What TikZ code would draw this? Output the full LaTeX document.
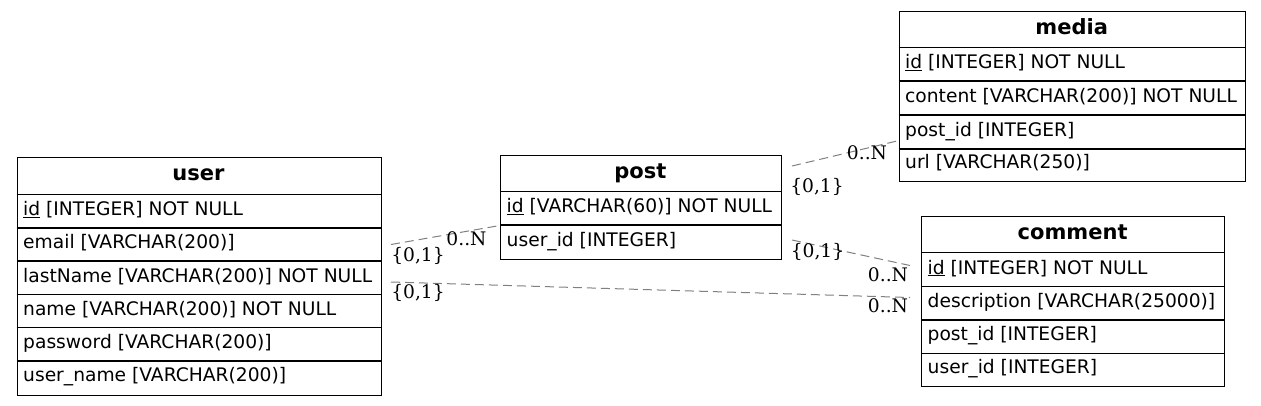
\documentclass[tikz,border=0pt]{standalone}
\usepackage{fontspec}
\setmainfont{DejaVu Sans}
\newfontfamily\cardserif{DejaVu Serif}
\newcommand\fldfont{\fontsize{18.67}{22}\selectfont}
\newcommand\hdrfont{\fontsize{21}{24}\selectfont\bfseries}
\newcommand\crdfont{\cardserif\fontsize{18.67}{22}\selectfont}
\newcommand\pk[1]{\underline{#1}}
\begin{document}
\begin{tikzpicture}[x=1pt,y=-1pt,
 tbl/.style={draw=black, line width=1pt, fill=white, anchor=north west, inner sep=0pt},
 sepl/.style={draw=black, line width=1.2pt},
 fld/.style={anchor=base west, inner sep=0pt, font=\fldfont},
 hdr/.style={anchor=base, inner sep=0pt, font=\hdrfont},
 card/.style={anchor=base, inner sep=0pt, font=\crdfont},
 rel/.style={draw=black!50, line width=1pt, dash pattern=on 9pt off 5pt}]
\useasboundingbox[fill=white] (0,0) rectangle (1261,405);

% ---------- tables ----------
% user
\node[tbl, minimum width=364pt, minimum height=237.7pt] (user) at (16.5,157.3) {};
\foreach \yy in {194.3,228,261,294.7,327.7,361} \draw[sepl] (16.5,\yy) -- (380.5,\yy);
\node[hdr] (user-h) at (198.5,180.5) {user};
\node[fld] (user-1) at (23,215.3) {\pk{id} [INTEGER] NOT NULL};
\node[fld] (user-2) at (23,248.3) {email [VARCHAR(200)]};
\node[fld] (user-3) at (23,282) {lastName [VARCHAR(200)] NOT NULL};
\node[fld] (user-4) at (23,315) {name [VARCHAR(200)] NOT NULL};
\node[fld] (user-5) at (23,348.3) {password [VARCHAR(200)]};
\node[fld] (user-6) at (23,381.8) {user\_name [VARCHAR(200)]};

% post
\node[tbl, minimum width=280.7pt, minimum height=103.7pt] (post) at (500,155) {};
\foreach \yy in {191.7,225} \draw[sepl] (500,\yy) -- (780.7,\yy);
\node[hdr] (post-h) at (640.3,178.2) {post};
\node[fld] (post-1) at (506.5,212.3) {\pk{id} [VARCHAR(60)] NOT NULL};
\node[fld] (post-2) at (506.5,246) {user\_id [INTEGER]};

% media
\node[tbl, minimum width=346.5pt, minimum height=170pt] (media) at (898.5,10.7) {};
\foreach \yy in {47.7,81,115,149} \draw[sepl] (898.5,\yy) -- (1245,\yy);
\node[hdr] (media-h) at (1071.7,34.2) {media};
\node[fld] (media-1) at (905,68.3) {\pk{id} [INTEGER] NOT NULL};
\node[fld] (media-2) at (905,102.3) {content [VARCHAR(200)] NOT NULL};
\node[fld] (media-3) at (905,136.3) {post\_id [INTEGER]};
\node[fld] (media-4) at (905,168) {url [VARCHAR(250)]};

% comment
\node[tbl, minimum width=303.3pt, minimum height=170pt] (comment) at (921,215.7) {};
\foreach \yy in {252.7,286.7,320,353.3} \draw[sepl] (921,\yy) -- (1224.3,\yy);
\node[hdr] (comment-h) at (1072.6,239.2) {comment};
\node[fld] (comment-1) at (927.5,274) {\pk{id} [INTEGER] NOT NULL};
\node[fld] (comment-2) at (927.5,307.3) {description [VARCHAR(25000)]};
\node[fld] (comment-3) at (927.5,340.6) {post\_id [INTEGER]};
\node[fld] (comment-4) at (927.5,373) {user\_id [INTEGER]};

% ---------- relations ----------
\coordinate (e1s) at (391,244.5);
\coordinate (e1t) at (497,226);
\coordinate (e2s) at (391,282);
\coordinate (e2t) at (910,297.5);
\coordinate (e3s) at (792,240);
\coordinate (e3t) at (910,265.5);
\coordinate (e4s) at (792,166);
\coordinate (e4t) at (897,141);
\draw[rel] (e1s) -- (e1t);
\draw[rel] (e2s) -- (e2t);
\draw[rel] (e3s) -- (e3t);
\draw[rel] (e4s) -- (e4t);

\node[card] (c1a) at (418,261) {\{0,1\}};
\node[card] (c1b) at (466.5,245) {0..N};
\node[card] (c2a) at (418,298) {\{0,1\}};
\node[card] (c2b) at (888,312) {0..N};
\node[card] (c3a) at (817.5,257) {\{0,1\}};
\node[card] (c3b) at (888,281) {0..N};
\node[card] (c4a) at (817,192) {\{0,1\}};
\node[card] (c4b) at (867,159) {0..N};
\end{tikzpicture}
\end{document}
